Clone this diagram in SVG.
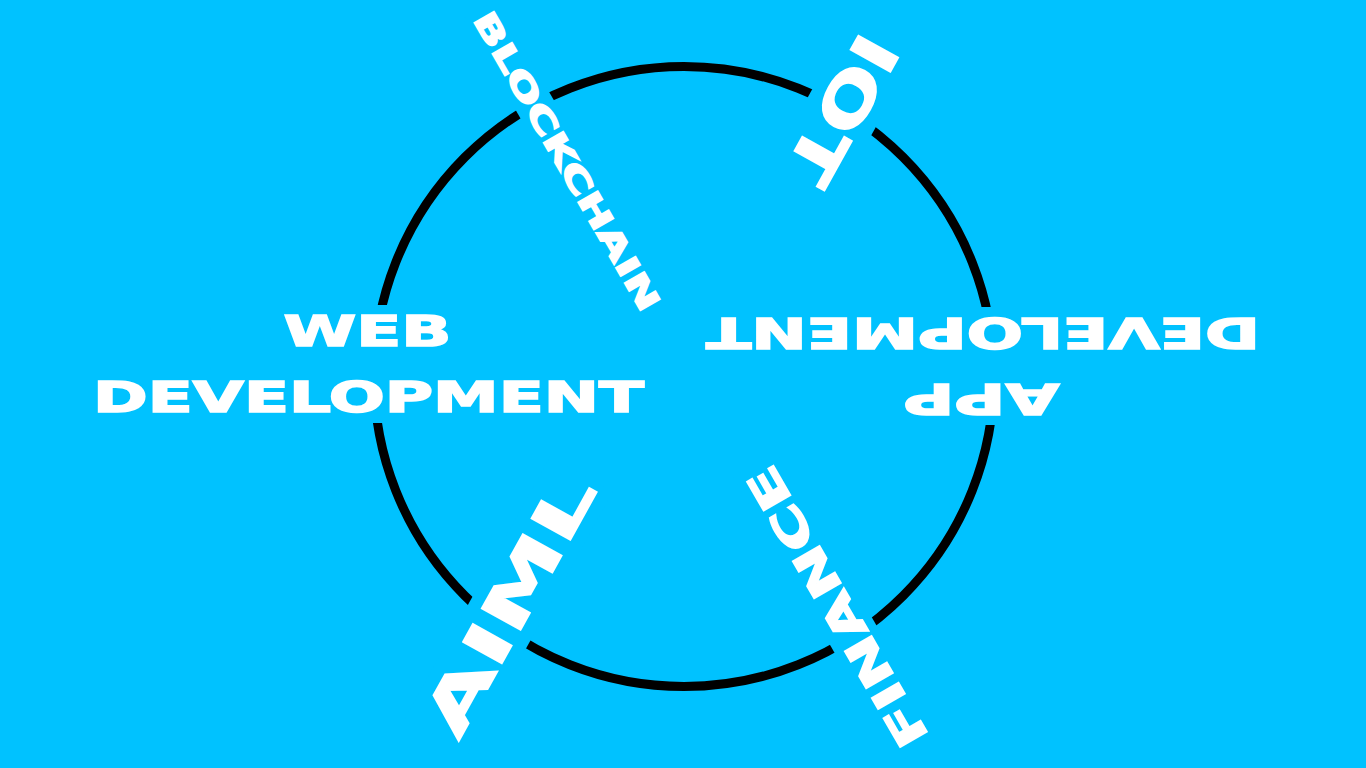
<svg xmlns="http://www.w3.org/2000/svg" width="1366" height="768" viewBox="0 0 1366 768">
  <style>
    .lbl { font-family: "DejaVu Sans", "Liberation Sans", sans-serif; font-weight: bold; fill: #ffffff; stroke: #ffffff; stroke-width: 1.6; stroke-linejoin: miter; text-anchor: middle; }
    .gap { fill: #00C2FF; }
    .ring { fill: none; stroke: #000000; stroke-width: 9; }
  </style>
  <rect width="1366" height="768" fill="#00C2FF"/>
  <g id="connectors">
    <circle class="ring" cx="684" cy="376.5" r="310"/>
  </g>
  <g id="node-web">
    <rect class="gap" x="340" y="305" width="80" height="118"/>
    <text class="lbl" x="367.5" y="346.2" font-size="43.5" textLength="168" lengthAdjust="spacingAndGlyphs">WEB</text>
    <text class="lbl" x="368.5" y="412.2" font-size="43.5" textLength="551" lengthAdjust="spacingAndGlyphs">DEVELOPMENT</text>
  </g>
  <g id="node-app" transform="rotate(180 983 367)">
    <rect class="gap" x="940" y="309" width="80" height="118"/>
    <text class="lbl" x="984.5" y="350.2" font-size="43.5" textLength="156" lengthAdjust="spacingAndGlyphs">APP</text>
    <text class="lbl" x="983" y="416.2" font-size="43.5" textLength="554" lengthAdjust="spacingAndGlyphs">DEVELOPMENT</text>
  </g>
  <g id="node-blockchain" transform="translate(567,161) rotate(60)">
    <rect class="gap" x="-175" y="-19" width="350" height="38"/>
    <text class="lbl" x="0" y="11.2" font-size="31" textLength="340" lengthAdjust="spacingAndGlyphs">BLOCKCHAIN</text>
  </g>
  <g id="node-iot" transform="translate(843,110) rotate(119)">
    <rect class="gap" x="-85" y="-37" width="170" height="74"/>
    <text class="lbl" x="0" y="22.7" font-size="62.5" textLength="160" lengthAdjust="spacingAndGlyphs">IOT</text>
  </g>
  <g id="node-aiml" transform="translate(509,605) rotate(-61)">
    <rect class="gap" x="-150" y="-36" width="300" height="72"/>
    <text class="lbl" x="0" y="22.2" font-size="61" textLength="287" lengthAdjust="spacingAndGlyphs">AIML</text>
  </g>
  <g id="node-finance" transform="translate(837,607) rotate(-120)">
    <rect class="gap" x="-165" y="-25" width="330" height="50"/>
    <text class="lbl" x="0" y="15.5" font-size="42.5" textLength="317" lengthAdjust="spacingAndGlyphs">FINANCE</text>
  </g>
</svg>
